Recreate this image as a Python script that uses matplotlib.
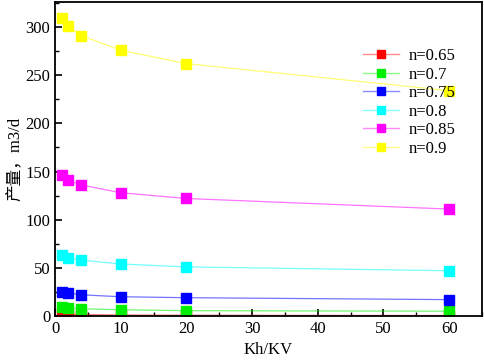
import matplotlib
matplotlib.use("Agg")
import matplotlib.pyplot as plt
import matplotlib.colors as mc
from matplotlib.ticker import MultipleLocator
from matplotlib.lines import Line2D

x = [1, 2, 4, 10, 20, 60]
labels = ["n=0.65", "n=0.7", "n=0.75", "n=0.8", "n=0.85", "n=0.9"]
s065 = [3, 2, 1.5, 1, 0.8, 0.5]
s070 = [9, 8.5, 7.5, 6.5, 5.5, 5]
s075 = [25, 24, 22, 20, 19, 17]
s080 = [63, 60, 58, 54, 51, 47]
s085 = [146, 141, 136, 128, 122, 111]
s090 = [309, 301, 291, 276, 262, 234]
series = [s065, s070, s075, s080, s085, s090]
colors = ["#ff0000", "#00ee00", "#0000ff", "#00ffff", "#ff00ff", "#ffff00"]

plt.rcParams['font.family'] = ['Liberation Serif', 'Noto Sans CJK SC']
fig = plt.figure(figsize=(4.84, 3.64), dpi=100)
ax = fig.add_axes([55/484, 48/364, 427/484, 314/364])
for ys, c in zip(series, colors):
    ax.plot(x, ys, color=c, lw=0.9, alpha=0.55)
    ax.plot(x, ys, ls='none', marker='s', ms=6.5, color=c)

handles = []
for c in colors:
    rgb = mc.to_rgb(c)
    light = tuple(1 - 0.45 * (1 - v) for v in rgb)
    handles.append(Line2D([], [], color=light, lw=1.0, marker='s', ms=5.5,
                          mfc=c, mec=c))
ax.legend(handles, labels, loc='upper left', bbox_to_anchor=(0.687, 0.901),
          frameon=False, fontsize=12, handlelength=2.15, labelspacing=0.15,
          handletextpad=0.55)

ax.set_xlim(0, 65)
ax.set_ylim(0, 326)
ax.xaxis.set_major_locator(MultipleLocator(10))
ax.xaxis.set_minor_locator(MultipleLocator(5))
ax.yaxis.set_major_locator(MultipleLocator(50))
ax.yaxis.set_minor_locator(MultipleLocator(25))
ax.tick_params(which='both', direction='in', labelsize=12)
ax.tick_params(which='major', length=5, width=1.2)
ax.tick_params(which='minor', length=3, width=1)
for sp in ax.spines.values():
    sp.set_linewidth(1.3)
ax.set_xlabel("Kh/KV", fontsize=12, labelpad=4)
ax.set_ylabel("产量，m3/d", fontsize=12, labelpad=2)
fig.savefig("out.png", dpi=100)
